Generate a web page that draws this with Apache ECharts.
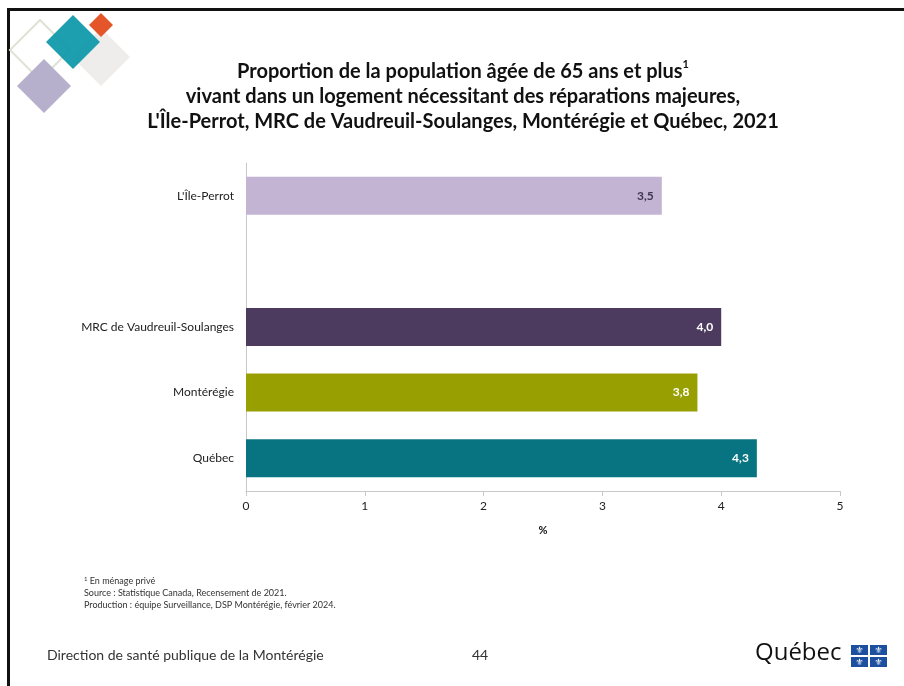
<!DOCTYPE html>
<html lang="fr">
<head>
<meta charset="utf-8">
<script src="https://cdn.jsdelivr.net/npm/echarts@6/dist/echarts.min.js"></script>
<style>
  html, body { margin: 0; padding: 0; background: #fff; }
  #chart { width: 904px; height: 686px; }
</style>
</head>
<body>
<div id="chart"></div>
<script>
// Territories, listed from the bottom of the chart upwards (blank row = spacer)
const categories = ['Québec', 'Montérégie', 'MRC de Vaudreuil-Soulanges', '', "L'Île-Perrot"];
// Proportion (%) of people aged 65+ living in a dwelling needing major repairs, 2021
const values = [4.3, 3.8, 4.0, null, 3.5];
const barColors = ['#087482', '#97a000', '#4d3b5f', '#ffffff', '#c3b4d3'];
const labelColors = ['#ffffff', '#ffffff', '#ffffff', '#ffffff', '#3f3650'];
const xTicks = [0, 1, 2, 3, 4, 5];

const titleLines = [
  'Proportion de la population âgée de 65 ans et plus{sup|1}',
  'vivant dans un logement nécessitant des réparations majeures,',
  "L'Île-Perrot, MRC de Vaudreuil-Soulanges, Montérégie et Québec, 2021"
];
const footnotes = [
  '{sup|1} En ménage privé',
  'Source : Statistique Canada, Recensement de 2021.',
  'Production : équipe Surveillance, DSP Montérégie, février 2024.'
];

const FONT = 'Lato, "Open Sans", sans-serif';
const chart = echarts.init(document.getElementById('chart'), null, { renderer: 'canvas' });

function diamond(cx, cy, half, style, z) {
  const s = half * Math.SQRT2;
  return {
    type: 'rect', x: cx, y: cy, rotation: Math.PI / 4,
    shape: { x: -s / 2, y: -s / 2, width: s, height: s },
    style: style, z: z || 1, silent: true
  };
}

const flagCells = [[0, 0], [1, 0], [0, 1], [1, 1]];
const flagX = 851, flagY = 645, cellW = 17, cellH = 10, gap = 2;

const graphics = [
  // page frame
  { type: 'rect', shape: { x: 8.5, y: 9.5, width: 920, height: 700 },
    style: { fill: 'none', stroke: '#111', lineWidth: 3 }, silent: true },
  // decorative diamonds
  diamond(40, 50, 30, { fill: 'none', stroke: '#dfe3d6', lineWidth: 2 }, 2),
  diamond(101, 57, 29, { fill: '#efedec' }, 2),
  diamond(44, 86, 27, { fill: '#b7b0cc' }, 3),
  diamond(73, 42, 27, { fill: '#0b97a8', opacity: 0.92 }, 4),
  diamond(101, 25, 12, { fill: '#e4562a' }, 3),
  // title
  { type: 'text', x: 463, y: 59, z: 10,
    style: {
      text: titleLines.join('\n'),
      font: 'bold 20px ' + FONT, fill: '#111', align: 'center', lineHeight: 25,
      rich: { sup: { font: 'bold 11px ' + FONT, verticalAlign: 'top', padding: [0, 0, 8, 0], fill: '#111' } }
    }, silent: true },
  // notes
  { type: 'text', x: 84, y: 575, z: 10,
    style: {
      text: footnotes.join('\n'), font: '9px ' + FONT, fill: '#333', lineHeight: 12,
      rich: { sup: { font: '6px ' + FONT, fill: '#333', padding: [0, 0, 4, 0] } }
    }, silent: true },
  // footer
  { type: 'text', x: 47, y: 648, z: 10,
    style: { text: 'Direction de santé publique de la Montérégie', font: '14px ' + FONT, fill: '#333' }, silent: true },
  { type: 'text', x: 472, y: 648, z: 10,
    style: { text: '44', font: '14px ' + FONT, fill: '#333' }, silent: true },
  { type: 'text', x: 755, y: 641, z: 10,
    style: { text: 'Québec', font: '24px "Open Sans", sans-serif', fill: '#111' }, silent: true }
];
flagCells.forEach(([c, r]) => {
  const x = flagX + c * (cellW + gap), y = flagY + r * (cellH + gap);
  graphics.push({ type: 'rect', shape: { x: x, y: y, width: cellW, height: cellH },
    style: { fill: '#1c4fa0' }, z: 10, silent: true });
  graphics.push({ type: 'text', x: x + cellW / 2, y: y + cellH / 2 + 0.5, z: 11,
    style: { text: '⚜', font: '9px "DejaVu Sans"', fill: '#fff', align: 'center', verticalAlign: 'middle' }, silent: true });
});

chart.setOption({
  backgroundColor: '#ffffff',
  animation: false,
  grid: { left: 246, right: 64, top: 163, bottom: 195, containLabel: false },
  xAxis: {
    type: 'value', min: 0, max: 5, interval: 1,
    name: '%', nameLocation: 'middle', nameGap: 34,
    nameTextStyle: { fontFamily: FONT, fontSize: 11, fontWeight: 'bold', color: '#111' },
    axisLine: { show: true, lineStyle: { color: '#c8c8c8', width: 1 } },
    axisTick: { show: true, length: 5, lineStyle: { color: '#c8c8c8' } },
    axisLabel: { margin: 9, fontFamily: FONT, fontSize: 12, color: '#222',
      formatter: v => xTicks.includes(v) ? String(v) : '' },
    splitLine: { show: false }
  },
  yAxis: {
    type: 'category', data: categories,
    axisLine: { show: true, lineStyle: { color: '#c8c8c8', width: 1 } },
    axisTick: { show: false },
    axisLabel: { margin: 12, fontFamily: FONT, fontSize: 12, color: '#222' }
  },
  series: [{
    type: 'bar',
    barWidth: 38,
    data: values.map((v, i) => ({
      value: v,
      itemStyle: { color: barColors[i] },
      label: { color: labelColors[i] }
    })),
    label: {
      show: true, position: 'insideRight', distance: 8,
      fontFamily: FONT, fontSize: 12, fontWeight: 'bold',
      formatter: p => p.value == null ? '' : p.value.toFixed(1).replace('.', ',')
    }
  }],
  graphic: graphics
});
</script>
</body>
</html>
